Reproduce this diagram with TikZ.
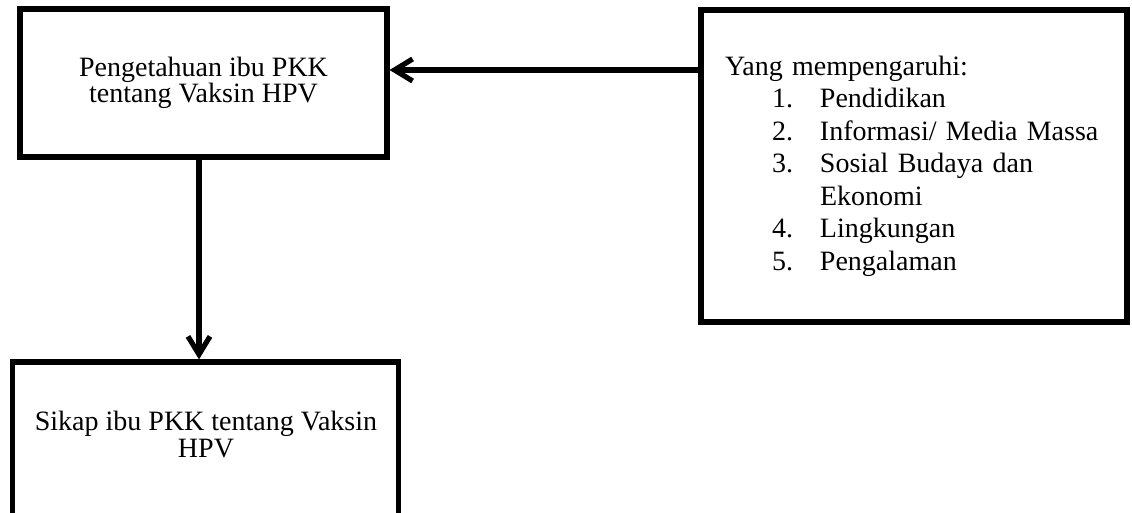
\documentclass[tikz,border=0pt]{standalone}
\usepackage{fontspec}
\setmainfont{Liberation Serif}
\usetikzlibrary{arrows.meta}
\begin{document}
\begin{tikzpicture}[x=0.5pt,y=-0.5pt,
  box/.style={draw=black, line width=2.6pt, inner sep=0pt},
  txt/.style={inner sep=0pt, align=center, font=\fontsize{14}{13.5}\selectfont},
  arr/.style={line width=2.6pt, -{Straight Barb[length=9pt,width=11pt]}},
]
\useasboundingbox (0,0) rectangle (1132,513);
\fill[white] (0,0) rectangle (1132,513);
\begin{scope}
\clip (0,0) rectangle (1132,513);
% top-left box
\node[box, minimum width=183.5pt, minimum height=74pt, align=center,
      font=\fontsize{14}{13}\selectfont] (pk) at (203.5,83)
      {Pengetahuan ibu PKK\\tentang Vaksin HPV};
% right box
\node[box, minimum height=156pt, text width=189pt, inner xsep=12pt, align=left,
      font=\fontsize{14}{16.25}\selectfont] (inf) at (914,166)
      {Yang mempengaruhi:\\
       \hspace*{23.5pt}\makebox[24pt][l]{1.}Pendidikan\\
       \hspace*{23.5pt}\makebox[24pt][l]{2.}Informasi/ Media Massa\\
       \hspace*{23.5pt}\makebox[24pt][l]{3.}Sosial Budaya dan\\
       \hspace*{23.5pt}\makebox[24pt][l]{}Ekonomi\\
       \hspace*{23.5pt}\makebox[24pt][l]{4.}Lingkungan\\
       \hspace*{23.5pt}\makebox[24pt][l]{5.}Pengalaman};
% bottom box (its lower edge lies outside the picture)
\node[box, minimum width=193pt, minimum height=79pt] (sk) at (205.5,441) {};
\node[txt] (sktext) at (206,434.9) {Sikap ibu PKK tentang Vaksin\\HPV};
% connectors
\coordinate (hy) at (0,70);
\coordinate (vx) at (199,0);
\draw[arr] (inf.west |- hy) -- (pk.east |- hy);
\draw[arr] (pk.south -| vx) -- (sk.north -| vx);
\end{scope}
\end{tikzpicture}
\end{document}
